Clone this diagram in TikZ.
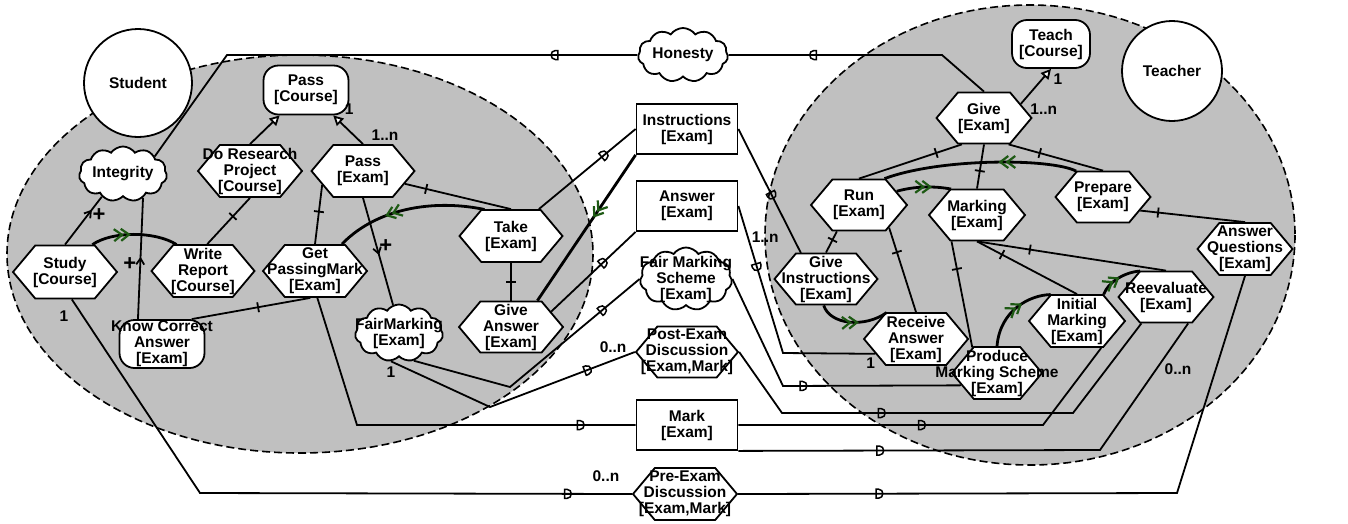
\documentclass[tikz,border=0pt]{standalone}
\usepackage{fontspec}
\setmainfont{Liberation Sans}
\usetikzlibrary{shapes.symbols,shapes.geometric,arrows.meta}
\definecolor{bggray}{RGB}{192,192,192}
\definecolor{seqgreen}{RGB}{30,90,20}
\newcommand{\cbox}[1]{\makebox[0pt]{#1}}
\begin{document}
\begin{tikzpicture}[x=1pt, y=-1pt, line width=1.8pt,
  font=\fontsize{15.5}{16}\selectfont\bfseries,
  task/.style={signal, signal to=east and west, signal pointer angle=100, draw, fill=white,
    minimum width=103pt, minimum height=52pt, inner sep=0pt, align=center},
  goal/.style={rectangle, rounded corners=15pt, draw, fill=white,
    minimum width=85pt, minimum height=49pt, inner sep=0pt, align=center},
  soft/.style={cloud, cloud puffs=11, cloud puff arc=110, cloud ignores aspect, draw, fill=white,
    minimum width=88pt, minimum height=55pt, inner sep=0pt, align=center},
  res/.style={rectangle, draw, fill=white, minimum width=101pt, minimum height=50pt,
    inner sep=0pt, align=center},
  actor/.style={circle, draw, fill=white, inner sep=0pt},
  bnd/.style={draw, line width=1.6pt, dash pattern=on 8pt off 4pt, fill=bggray},
  seq/.style={line width=2.8pt},
  isa/.style={-{Triangle[length=10pt, width=10pt, fill=white]}},
  plus/.style={font=\fontsize{22}{22}\selectfont\bfseries, inner sep=0pt},
  tick/.pic={\draw (0,-5) -- (0,5);},
  carr/.pic={\draw (-6,-4) -- (0,0) -- (-6,4);},
  dbl/.pic={\draw[seqgreen, line width=2.2pt] (-8,-6) -- (0,0) -- (-8,6) (-15,-6) -- (-7,0) -- (-15,6);},
  dmk/.pic={\draw[line width=1.5pt] (-2.5,-4.5) -- (0,-4.5) .. controls (5.6,-4.5) and (5.6,4.5) .. (0,4.5) -- (-2.5,4.5) -- cycle;}]
\useasboundingbox (0,0) rectangle (1348,523);

% actor boundaries
\draw[bnd] (300,254) ellipse [x radius=293, y radius=199];
\draw[bnd] (1030,235) ellipse [x radius=265, y radius=230];
\node[actor, minimum size=108pt] (student) at (138,83) {Student};
\node[actor, minimum size=100pt] (teacher) at (1172,71) {Teacher};

% student
\node[goal] (passC) at (306,90) {\cbox{Pass}\\\cbox{[Course]}};
\node[soft] (integ) at (123,174) {\cbox{Integrity}};
\node[task, minimum width=104pt] (doRes) at (250,171) {\cbox{Do Research}\\\cbox{Project}\\\cbox{[Course]}};
\node[task] (passE) at (363,171) {\cbox{Pass}\\\cbox{[Exam]}};
\node[task, minimum width=104pt, minimum height=53pt] (study) at (65,272) {\cbox{Study}\\\cbox{[Course]}};
\node[task] (write) at (203,271) {\cbox{Write}\\\cbox{Report}\\\cbox{[Course]}};
\node[task, minimum width=104pt] (getPM) at (315,271) {\cbox{Get}\\\cbox{PassingMark}\\\cbox{[Exam]}};
\node[goal, minimum height=48pt] (knowCA) at (162,344) {\cbox{Know Correct}\\\cbox{Answer}\\\cbox{[Exam]}};
\node[soft, minimum height=57pt] (fairM) at (399,333) {\cbox{FairMarking}\\\cbox{[Exam]}};
\node[task] (take) at (511,236) {\cbox{Take}\\\cbox{[Exam]}};
\node[task, minimum width=104pt, minimum height=51pt] (giveAns) at (511,327) {\cbox{Give}\\\cbox{Answer}\\\cbox{[Exam]}};

% dependums
\node[soft, minimum width=90pt, minimum height=54pt] (honesty) at (683,55) {\cbox{Honesty}};
\node[res] (instr) at (687,129) {\cbox{Instructions}\\\cbox{[Exam]}};
\node[res] (answer) at (687,206) {\cbox{Answer}\\\cbox{[Exam]}};
\node[soft, minimum width=92pt] (fairS) at (686,279) {\cbox{Fair Marking}\\\cbox{Scheme}\\\cbox{[Exam]}};
\node[task, minimum width=102pt, minimum height=51pt] (postEx) at (687,352) {\cbox{Post-Exam}\\\cbox{Discussion}\\\cbox{[Exam,Mark]}};
\node[res] (mark) at (687,425) {\cbox{Mark}\\\cbox{[Exam]}};
\node[task, minimum width=104pt] (preEx) at (685,494) {\cbox{Pre-Exam}\\\cbox{Discussion}\\\cbox{[Exam,Mark]}};

% teacher
\node[goal, minimum width=78pt, minimum height=48pt] (teachC) at (1051,44) {\cbox{Teach}\\\cbox{[Course]}};
\node[task, minimum width=95pt, minimum height=51pt] (giveE) at (984,118) {\cbox{Give}\\\cbox{[Exam]}};
\node[task, minimum width=96pt, minimum height=51pt] (run) at (859,205) {\cbox{Run}\\\cbox{[Exam]}};
\node[task, minimum width=96pt, minimum height=51pt] (marking) at (977,215) {\cbox{Marking}\\\cbox{[Exam]}};
\node[task, minimum width=95pt, minimum height=51pt] (prepare) at (1103,197) {\cbox{Prepare}\\\cbox{[Exam]}};
\node[task, minimum width=95pt] (ansQ) at (1245,249) {\cbox{Answer}\\\cbox{Questions}\\\cbox{[Exam]}};
\node[task, minimum height=51pt] (giveI) at (826,279) {\cbox{Give}\\\cbox{Instructions}\\\cbox{[Exam]}};
\node[task, minimum width=104pt] (recvA) at (916,339) {\cbox{Receive}\\\cbox{Answer}\\\cbox{[Exam]}};
\node[task, minimum width=90pt] (produce) at (997,373) {\cbox{Produce}\\\cbox{Marking Scheme}\\\cbox{[Exam]}};
\node[task, minimum width=96pt] (initM) at (1077,321) {\cbox{Initial}\\\cbox{Marking}\\\cbox{[Exam]}};
\node[task, minimum width=95pt, minimum height=51pt] (reeval) at (1166,297) {\cbox{Reevaluate}\\\cbox{[Exam]}};

% decompositions
\draw (write.81) -- (doRes.south) pic[pos=.6, sloped]{tick};
\draw (getPM.north) -- (passE.199) pic[pos=.55, sloped]{tick};
\draw (passE.-17) -- (take.north) pic[pos=.2, sloped]{tick};
\draw (take.south) -- (giveAns.north) pic[pos=.5, sloped]{tick};
\draw (knowCA.40) -- (getPM.-100) pic[pos=.56, sloped]{tick};
\draw (giveE.230) -- (run.north) pic[pos=.25, sloped]{tick};
\draw (giveE.south) -- (marking.north) pic[pos=.6, sloped]{tick};
\draw (giveE.-47) -- (prepare.north) pic[pos=.33, sloped]{tick};
\draw (prepare.-20) -- (ansQ.north) pic[pos=.17, sloped]{tick};
\draw (run.230) -- (giveI.north) pic[pos=.4, sloped]{tick};
\draw (run.-37) -- (recvA.north) pic[pos=.29, sloped]{tick};
\draw (marking.226) -- (produce.134) pic[pos=.26, sloped]{tick};
\draw (marking.south) -- (initM.north) pic[pos=.25, sloped]{tick};
\draw (marking.south) -- (reeval.north) pic[pos=.28, sloped]{tick};

% contributions
\draw (study.north) -- (integ.227) pic[pos=.7, sloped]{carr} node[plus, pos=.62, right=4pt]{+};
\draw (knowCA.134) -- (integ.-50) pic[pos=.5, sloped]{carr} node[plus, pos=.45, left=3pt]{+};
\draw (fairM.102) -- (passE.south) pic[pos=.48, sloped]{carr} node[plus, pos=.55, right=2pt]{+};

% means-end
\draw[isa] (doRes.north) -- (passC.224);
\draw[isa] (passE.north) -- (passC.-43) node[pos=1, xshift=16pt, yshift=6pt]{1} node[pos=0, xshift=22pt, yshift=9pt]{1..n};
\draw[isa] (giveE.21) -- (teachC.south) node[pos=1, xshift=7pt, yshift=-10pt]{1} node[pos=0, xshift=23pt, yshift=-5pt]{1..n};

% sequences
\draw[seq] (study.45) .. controls (112,231) and (155,231) .. (write.135) pic[pos=.45, sloped]{dbl};
\draw[seq] (take.135) .. controls (440,200) and (380,205) .. (getPM.45) pic[pos=.66, sloped, allow upside down]{dbl};
\draw[seq] (instr.south west) -- (giveAns.45) pic[pos=.42, sloped, allow upside down]{dbl};
\draw[seq] (run.20) .. controls (915,186) and (935,186) .. (marking.135) pic[pos=.6, sloped]{dbl};
\draw[seq] (prepare.136) .. controls (1050,158) and (940,158) .. (run.46) pic[pos=.46, sloped, allow upside down]{dbl};
\draw[seq] (giveI.-95) .. controls (830,325) and (865,328) .. (recvA.138) pic[pos=.6, sloped]{dbl};
\draw[seq] (produce.north) .. controls (1000,310) and (1030,295) .. (initM.135) pic[pos=.55, sloped]{dbl};
\draw[seq] (initM.45) .. controls (1108,282) and (1125,272) .. (reeval.135) pic[pos=.5, sloped]{dbl};

% dependencies
\draw (honesty.west) -- (227,55) pic[pos=.2, sloped, allow upside down]{dmk} -- (integ.29);
\draw (giveE.north) -- (942,55) -- (honesty.east) pic[pos=.6, sloped, allow upside down]{dmk};
\draw (take.44) -- (instr.west) pic[pos=.67, sloped]{dmk};
\draw (instr.east) -- (giveI.134) pic[pos=.53, sloped]{dmk} node[pos=.87, left=10pt]{1..n};
\draw (giveAns.21) -- (answer.south west) pic[pos=.61, sloped]{dmk};
\draw (answer.east) -- (783,353) pic[pos=.41, sloped]{dmk} -- (recvA.200) node[pos=.95, below=0pt]{1};
\draw (fairM.-62) -- (510,387) -- (fairS.west) pic[pos=.71, sloped]{dmk};
\draw (fairS.east) -- (783,386) -- (produce.199) pic[pos=.11, sloped]{dmk};
\draw (fairM.-106) -- (490,407) node[pos=0, below=1pt]{1} -- (postEx.west) pic[pos=.67, sloped]{dmk} node[pos=.85, above=3pt]{0..n};
\draw (postEx.east) -- (782,413) -- (1073,413) pic[pos=.34, sloped]{dmk} -- (reeval.227);
\draw (getPM.-85) -- (357,425) -- (mark.west) pic[pos=.8, sloped]{dmk};
\draw (mark.east) -- (1043,425) pic[pos=.6, sloped]{dmk} -- (initM.-48);
\draw (mark.south east) -- (1100,450) pic[pos=.39, sloped]{dmk} -- (reeval.-50) node[pos=.64, right=4pt]{0..n};
\draw (study.-76) -- (200,493) node[pos=0, xshift=-8pt, yshift=-17pt]{1} -- (preEx.west) pic[pos=.85, sloped]{dmk} node[pos=.94, above=8pt]{0..n};
\draw (preEx.east) -- (1177,493) pic[pos=.32, sloped]{dmk} -- (ansQ.south);
\end{tikzpicture}
\end{document}
